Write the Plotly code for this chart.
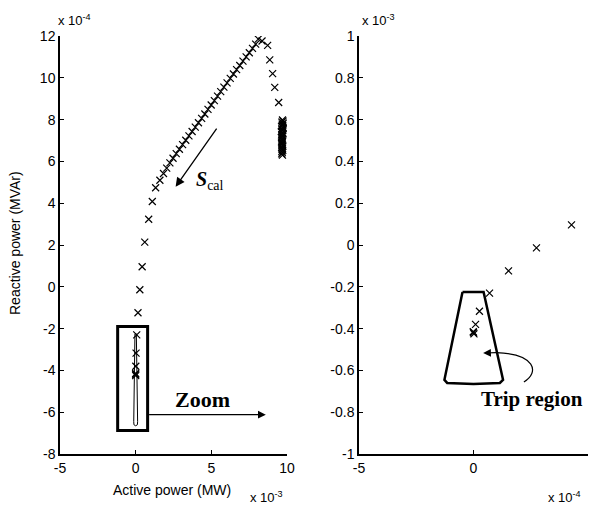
import numpy as np
import plotly.graph_objects as go

W, H = 590, 510

# ---- data: trajectory of apparent power S_cal (P in 1e-3 MW, Q in 1e-4 MVAr) ----
CLUSTER_P_e3 = [9.70, 9.74, 9.66, 9.76, 9.68, 9.72, 9.64, 9.70, 9.75, 9.66, 9.72, 9.63,
                9.70, 9.74, 9.65, 9.71, 9.68, 9.64, 9.70, 9.66, 9.71, 9.64, 9.68, 9.66,
                9.69, 9.73, 9.65, 9.70, 9.67, 9.72, 9.66, 9.69, 9.65, 9.70]
CLUSTER_Q_e4 = [7.98, 7.93, 7.88, 7.83, 7.78, 7.73, 7.68, 7.63, 7.58, 7.53, 7.48, 7.43,
                7.38, 7.33, 7.28, 7.23, 7.18, 7.13, 7.08, 7.03, 6.98, 6.93, 6.88, 6.83,
                6.78, 6.73, 6.68, 6.63, 6.58, 6.53, 6.48, 6.42, 6.36, 6.30]
PATH_P_e3 = [9.45, 9.19, 9.05, 8.86, 8.72, 8.35, 8.10,
             7.93, 7.72, 7.51, 7.30, 7.09, 6.88, 6.67, 6.46, 6.25, 6.04, 5.83, 5.62,
             5.41, 5.20, 4.99, 4.78, 4.57, 4.36, 4.15, 3.94, 3.73, 3.52, 3.31, 3.10,
             2.89, 2.68, 2.47, 2.26, 2.05, 1.84, 1.60, 1.32,
             1.10, 0.86, 0.60, 0.428, 0.275, 0.153, 0.070, 0.026, 0.009, 0.0, 0.002, -0.001]
PATH_Q_e4 = [8.82, 9.54, 10.20, 10.86, 11.55, 11.76, 11.85,
             11.61, 11.41, 11.20, 11.00, 10.80, 10.59, 10.39, 10.18, 9.97, 9.76, 9.55, 9.34,
             9.12, 8.91, 8.70, 8.49, 8.27, 8.06, 7.85, 7.64, 7.43, 7.22, 7.01, 6.80,
             6.58, 6.37, 6.15, 5.93, 5.68, 5.42, 5.10, 4.74,
             4.08, 3.23, 2.14, 0.96, -0.14, -1.24, -2.30, -3.17, -3.80, -4.20, -4.25, -4.15]

# trip region polygon (P in 1e-4 MW, Q in 1e-3 MVAr)
TRIP_P_e4 = [-0.48, 0.44, 1.29, 1.15, 0.0, -1.15, -1.27, -0.48]
TRIP_Q_e3 = [-0.225, -0.225, -0.645, -0.66, -0.665, -0.66, -0.645, -0.225]

P = np.array(CLUSTER_P_e3 + PATH_P_e3) * 1e-3
Q = np.array(CLUSTER_Q_e4 + PATH_Q_e4) * 1e-4
TP = np.array(TRIP_P_e4) * 1e-4
TQ = np.array(TRIP_Q_e3) * 1e-3

# tick labels
L_XT = [-5, 0, 5, 10]
L_YT = [-8, -6, -4, -2, 0, 2, 4, 6, 8, 10, 12]
R_XT = [-5, 0, 5]
R_YT = [-1, -0.8, -0.6, -0.4, -0.2, 0, 0.2, 0.4, 0.6, 0.8, 1]

FONT = "Liberation Sans, Arial, sans-serif"
SERIF = "Liberation Serif, Times New Roman, serif"

def px(x):
    return x / W

def py(y):
    return 1 - y / H

marker = dict(symbol="x-thin", size=7, color="black", line=dict(width=1.2, color="black"))

fig = go.Figure()
fig.add_trace(go.Scatter(x=P, y=Q, mode="markers", marker=marker, xaxis="x", yaxis="y"))
fig.add_trace(go.Scatter(x=TP, y=TQ, mode="lines", line=dict(color="black", width=1), xaxis="x", yaxis="y"))
fig.add_trace(go.Scatter(x=P, y=Q, mode="markers", marker=marker, xaxis="x2", yaxis="y2"))
fig.add_trace(go.Scatter(x=TP, y=TQ, mode="lines", line=dict(color="black", width=2.5), xaxis="x2", yaxis="y2"))

ydom = [py(454), py(36)]
axcommon = dict(showline=True, linecolor="black", linewidth=1.5, ticks="inside", ticklen=4,
                tickcolor="black", showgrid=False, zeroline=False, automargin=False,
                tickfont=dict(family=FONT, size=14, color="black"))

fig.update_layout(
    template="none",
    width=W, height=H, margin=dict(l=0, r=0, t=0, b=0, pad=0), autosize=False,
    paper_bgcolor="white", plot_bgcolor="white", showlegend=False,
    xaxis=dict(domain=[px(60), px(287)], range=[-5e-3, 10e-3], anchor="y",
               tickvals=[v * 1e-3 for v in L_XT], ticktext=[str(v) for v in L_XT], **axcommon),
    yaxis=dict(domain=ydom, range=[-8e-4, 12e-4], anchor="x",
               tickvals=[v * 1e-4 for v in L_YT], ticktext=[str(v) for v in L_YT], **axcommon),
    xaxis2=dict(domain=[px(359), px(588)], range=[-5e-4, 5e-4], anchor="y2",
                tickvals=[v * 1e-4 for v in R_XT], ticktext=[str(v) for v in R_XT], **axcommon),
    yaxis2=dict(domain=ydom, range=[-1e-3, 1e-3], anchor="x2",
                tickvals=[v * 1e-3 for v in R_YT], ticktext=[("%g" % v) for v in R_YT], **axcommon),
)

# zoom box in left plot
fig.add_shape(type="rect", xref="x", yref="y", x0=-1.19e-3, x1=0.79e-3, y0=-6.88e-4, y1=-1.9e-4,
              line=dict(color="black", width=3))

C = dict(xanchor="center", yanchor="middle")
ann = []
# axis titles
ann.append(dict(text="Reactive power (MVAr)", x=px(15), y=py(243), xref="paper", yref="paper",
                textangle=-90, showarrow=False, font=dict(family=FONT, size=14, color="black"), **C))
ann.append(dict(text="Active power (MW)", x=px(172), y=py(490), xref="paper", yref="paper",
                showarrow=False, font=dict(family=FONT, size=14, color="black"), **C))
# exponent labels
for t, x, y in [("x 10<sup>-4</sup>", 74, 20), ("x 10<sup>-3</sup>", 266, 497),
                ("x 10<sup>-3</sup>", 378, 20), ("x 10<sup>-4</sup>", 564, 497)]:
    ann.append(dict(text=t, x=px(x), y=py(y), xref="paper", yref="paper", showarrow=False,
                    font=dict(family=FONT, size=13, color="black"), **C))
# Zoom arrow and label
ann.append(dict(x=8.6e-3, y=-6.12e-4, ax=0.79e-3, ay=-6.12e-4, xref="x", yref="y",
                axref="x", ayref="y", showarrow=True, arrowhead=2, arrowsize=1.3, arrowwidth=1.2,
                arrowcolor="black", text=""))
ann.append(dict(text="<b>Zoom</b>", x=4.43e-3, y=-5.4e-4, xref="x", yref="y", showarrow=False,
                font=dict(family=SERIF, size=22, color="black"), **C))
# S_cal arrow and label
ann.append(dict(x=2.64e-3, y=4.79e-4, ax=5.42e-3, ay=7.64e-4, xref="x", yref="y",
                axref="x", ayref="y", showarrow=True, arrowhead=2, arrowsize=1.4, arrowwidth=1.3,
                arrowcolor="black", text=""))
ann.append(dict(text="<b><i>S</i></b><sub>cal</sub>", x=4.9e-3, y=5.1e-4, xref="x", yref="y",
                showarrow=False, font=dict(family=SERIF, size=20, color="black"), **C))
# Trip region label and curved arrow
ann.append(dict(text="<b>Trip region</b>", x=2.55e-4, y=-0.738e-3, xref="x2", yref="y2",
                showarrow=False, font=dict(family=SERIF, size=21, color="black"), **C))
fig.add_shape(type="path", xref="x2", yref="y2",
              path="M 2.2e-4,-0.655e-3 C 2.9e-4,-0.61e-3 2.7e-4,-0.52e-3 1.0e-4,-0.515e-3",
              line=dict(color="black", width=1.2))
ann.append(dict(x=0.42e-4, y=-0.517e-3, ax=1.05e-4, ay=-0.515e-3, xref="x2", yref="y2",
                axref="x2", ayref="y2", showarrow=True, arrowhead=2, arrowsize=1.3, arrowwidth=1.2,
                arrowcolor="black", text=""))

fig.update_layout(annotations=ann)
fig.write_html("out.html")
